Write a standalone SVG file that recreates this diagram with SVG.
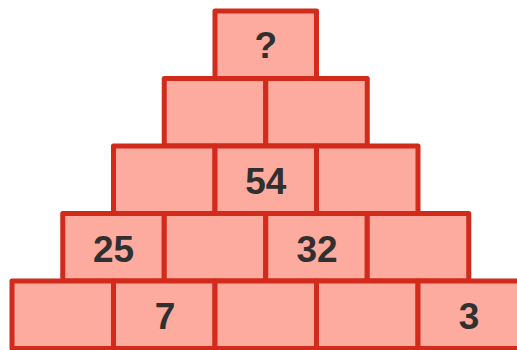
<svg xmlns="http://www.w3.org/2000/svg" width="517" height="350" viewBox="0 0 517 350">
<style>
.b{fill:#fcab9e;stroke:#d22b1c;stroke-width:5;stroke-linejoin:round}
.t{font-family:"Liberation Sans",Arial,sans-serif;font-weight:bold;font-size:37px;fill:#303030;text-anchor:middle}
</style>
<rect width="517" height="350" fill="#ffffff"/>
<g id="r1c1"><rect class="b" x="215" y="11" width="101.5" height="67.5"/><text class="t" x="265.75" y="58">?</text></g>
<g id="r2c1"><rect class="b" x="164.25" y="78.5" width="101.5" height="67.5"/></g>
<g id="r2c2"><rect class="b" x="265.75" y="78.5" width="101.5" height="67.5"/></g>
<g id="r3c1"><rect class="b" x="113.5" y="146" width="101.5" height="67.5"/></g>
<g id="r3c2"><rect class="b" x="215" y="146" width="101.5" height="67.5"/><text class="t" x="265.75" y="194">54</text></g>
<g id="r3c3"><rect class="b" x="316.5" y="146" width="101.5" height="67.5"/></g>
<g id="r4c1"><rect class="b" x="62.75" y="213.5" width="101.5" height="67.5"/><text class="t" x="113.5" y="262">25</text></g>
<g id="r4c2"><rect class="b" x="164.25" y="213.5" width="101.5" height="67.5"/></g>
<g id="r4c3"><rect class="b" x="265.75" y="213.5" width="101.5" height="67.5"/><text class="t" x="317" y="262">32</text></g>
<g id="r4c4"><rect class="b" x="367.25" y="213.5" width="101.5" height="67.5"/></g>
<g id="r5c1"><rect class="b" x="12" y="281" width="101.5" height="67.5"/></g>
<g id="r5c2"><rect class="b" x="113.5" y="281" width="101.5" height="67.5"/><text class="t" x="165" y="329">7</text></g>
<g id="r5c3"><rect class="b" x="215" y="281" width="101.5" height="67.5"/></g>
<g id="r5c4"><rect class="b" x="316.5" y="281" width="101.5" height="67.5"/></g>
<g id="r5c5"><rect class="b" x="418" y="281" width="101.5" height="67.5"/><text class="t" x="469" y="329">3</text></g>
<g id="connectors"/>
</svg>
